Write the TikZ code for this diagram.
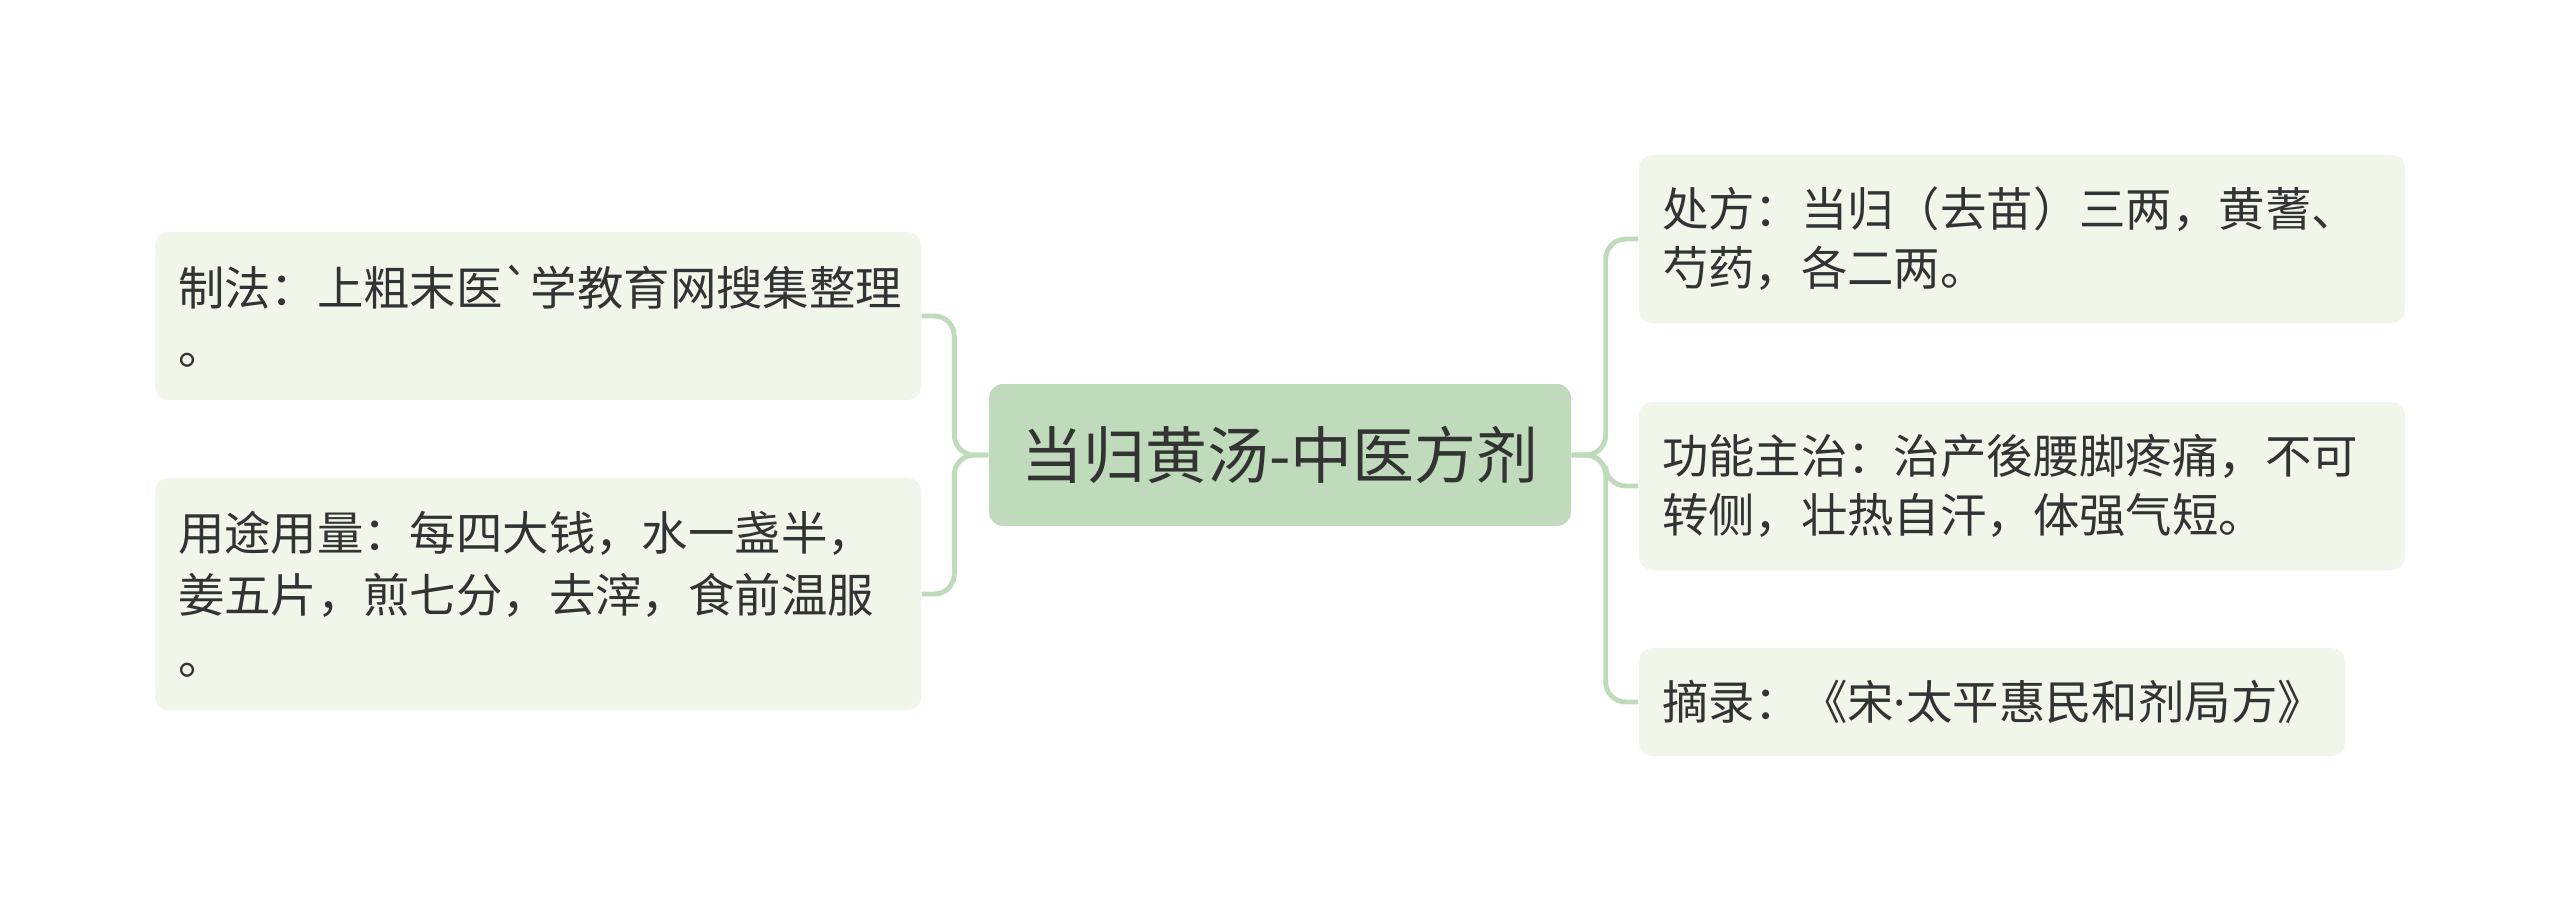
\documentclass[tikz,border=0pt]{standalone}
\usepackage{fontspec}
\setmainfont{Noto Sans CJK SC}[Ligatures=TeXOff]
\newfontfamily\dotfont{Noto Sans}
\usetikzlibrary{positioning}
\definecolor{topicColor}{RGB}{192,219,187}
\definecolor{leafColor}{RGB}{240,246,233}
\definecolor{inkColor}{RGB}{51,51,51}

\begin{document}
\begin{tikzpicture}[text=inkColor,
 topic/.style={fill=topicColor,rounded corners=0.14cm,align=center,minimum width=5.82cm,minimum height=1.42cm,font=\fontsize{17.6}{21}\selectfont},
 leaf/.style={fill=leafColor,rounded corners=0.13cm,align=left,inner xsep=0.23cm,text width=7.2cm,minimum height=1.68cm,font=\fontsize{13.2}{16.8}\selectfont},
 link/.style={draw=topicColor,line width=1.4pt,rounded corners=0.2cm}]
\useasboundingbox (0,0) rectangle (25.6,9.11);
\node[topic] (root) at (12.80,4.56) {当归黄汤-中医方剂};
\node[leaf] (make) at (5.38,5.95) {制法：上粗末医`学教育网搜集整理\\。};
\node[leaf,minimum height=2.32cm,font=\fontsize{13.2}{17.6}\selectfont] (usage) at (5.38,3.17) {用途用量：每四大钱，水一盏半，\\姜五片，煎七分，去滓，食前温服\\。};
\node[leaf] (recipe) at (20.22,6.72) {处方：当归（去苗）三两，黄蓍、\\芍药，各二两。};
\node[leaf] (effect) at (20.22,4.25) {功能主治：治产後腰脚疼痛，不可\\转侧，壮热自汗，体强气短。};
\node[leaf,text width=6.6cm,minimum height=1.08cm] (source) at (19.92,2.09) {摘录：《宋{\dotfont ·}太平惠民和剂局方》};
\draw[link] (root.west) -- ++(-0.34,0) |- (make.east);
\draw[link] (root.west) -- ++(-0.34,0) |- (usage.east);
\draw[link] (root.east) -- ++(0.34,0) |- (recipe.west);
\draw[link] (root.east) -- ++(0.34,0) |- (effect.west);
\draw[link] (root.east) -- ++(0.34,0) |- (source.west);
\end{tikzpicture}
\end{document}
